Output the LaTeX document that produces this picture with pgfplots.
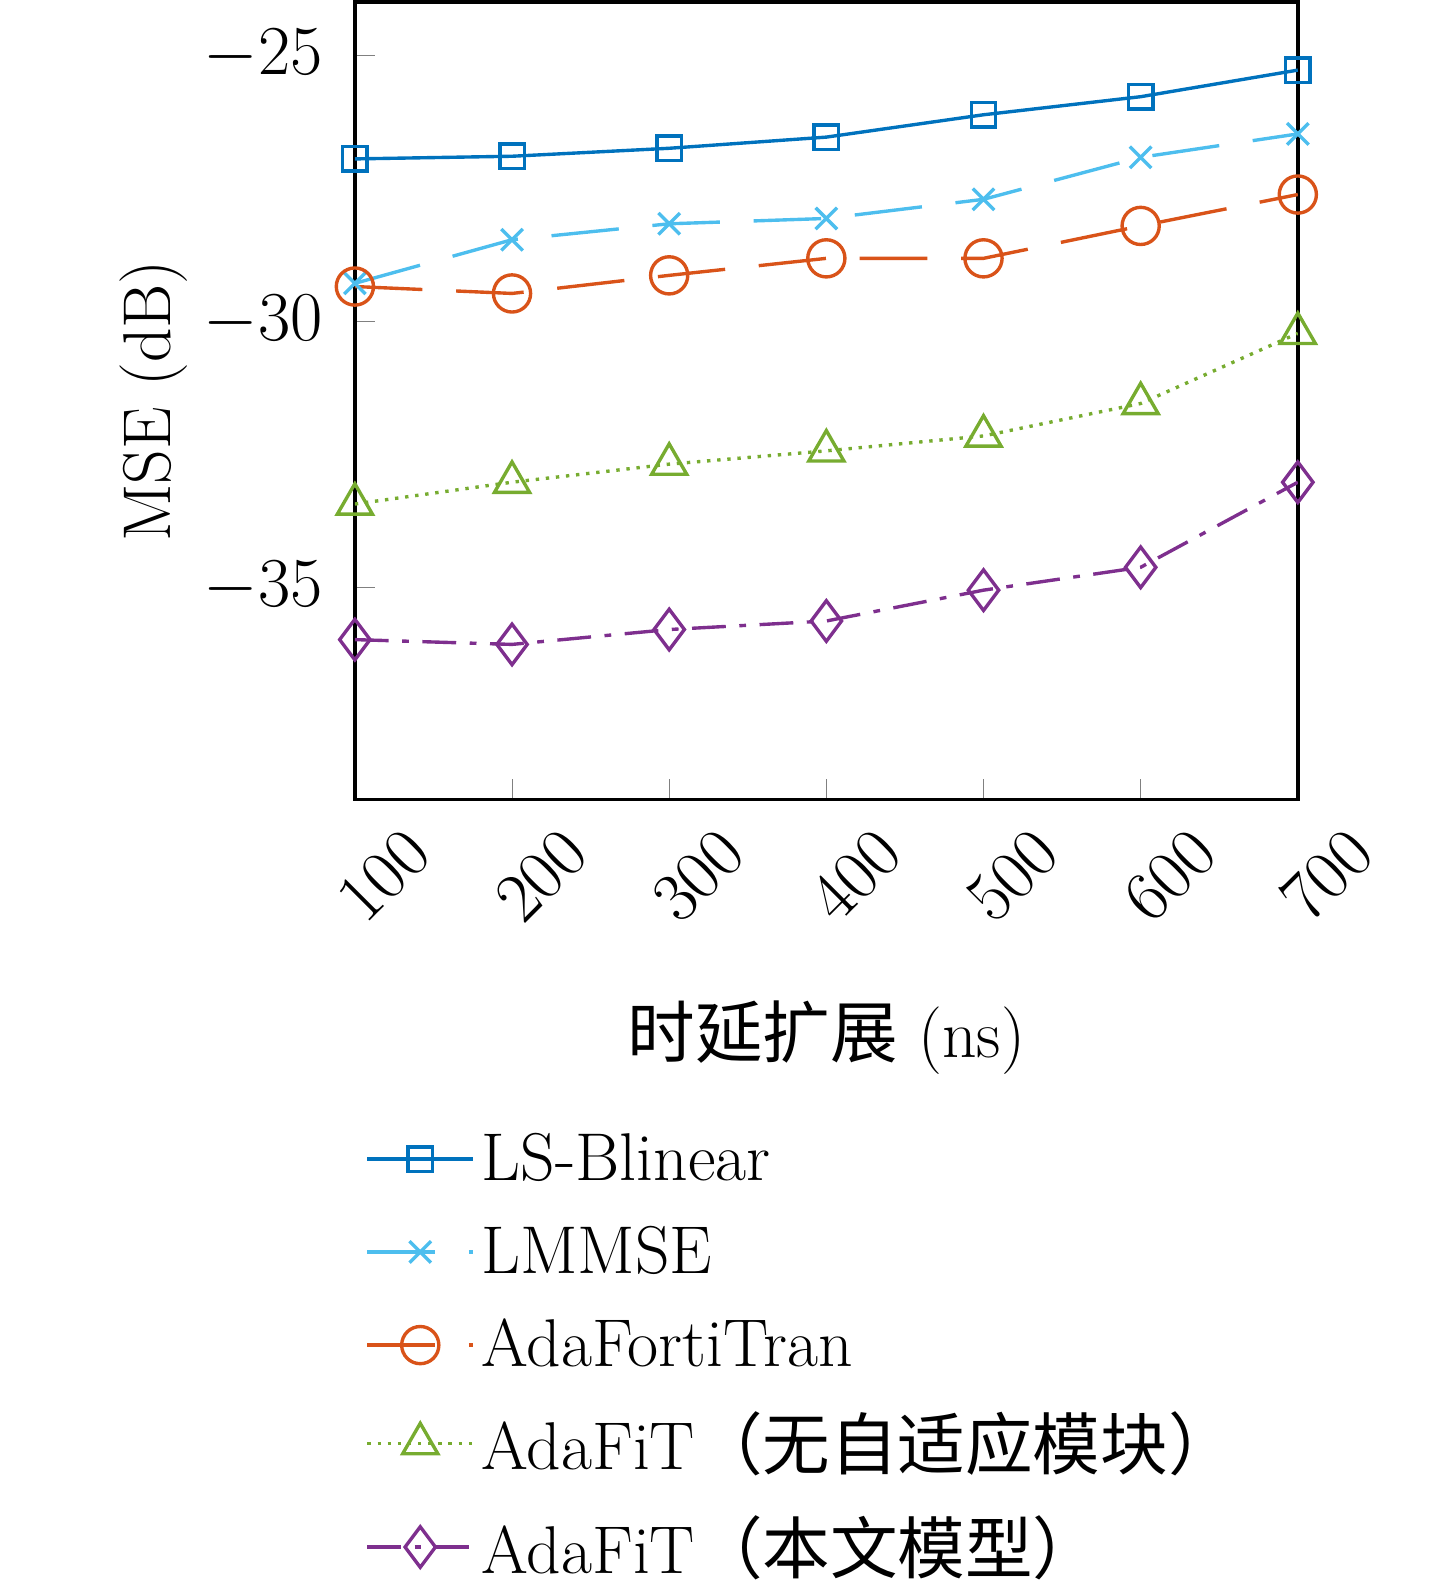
\documentclass[border=0pt]{standalone}
\usepackage{pgfplots}
\pgfplotsset{compat=1.18}
\usepackage{fontspec}
\newfontfamily\cjk{Noto Sans CJK SC}
\begin{document}
\begin{tikzpicture}
\path (-105pt,-470pt) rectangle (320pt,0.6pt);
\begin{axis}[
  scale only axis, width=279pt, height=236pt,
  at={(0,0)}, anchor=north west,
  xmin=100, xmax=700, ymin=-39, ymax=-24,
  xtick={100,200,...,700}, ytick={-35,-30,-25},
  tick align=inside, major tick length=6pt, tick pos=left,
  axis line style={line width=1pt},
  ticklabel style={font=\fontsize{20}{24}\selectfont},
  yticklabel style={xshift=-6pt},
  xticklabel style={rotate=45, anchor=east, xshift=8pt, yshift=-22pt},
  xlabel={{\cjk 时延扩展} (ns)}, ylabel={MSE (dB)},
  label style={font=\fontsize{20}{24}\selectfont},
  xlabel style={yshift=-14pt},
  ylabel style={yshift=-2pt},
  legend cell align=left,
  legend style={draw=none, fill=none, at={(0.0,-0.40)}, anchor=north west,
    font=\fontsize{20}{24}\selectfont, row sep=8pt,
    /tikz/every even column/.append style={column sep=4pt}},
  legend image code/.code={\draw[mark repeat=2,mark phase=2] plot coordinates {(0cm,0cm)(0.55cm,0cm)(1.1cm,0cm)};},
  every axis plot/.append style={line width=1pt, mark size=3.6pt, mark options={solid}},
]
\addplot[color={rgb,255:red,0;green,114;blue,189}, mark=square] coordinates {(100,-26.95)(200,-26.9)(300,-26.75)(400,-26.54)(500,-26.12)(600,-25.78)(700,-25.28)};
\addplot[color={rgb,255:red,77;green,190;blue,238}, mark=x, mark size=4.5pt, dash pattern=on 20pt off 10pt] coordinates {(100,-29.29)(200,-28.47)(300,-28.17)(400,-28.07)(500,-27.71)(600,-26.92)(700,-26.48)};
\addplot[color={rgb,255:red,217;green,83;blue,25}, mark=o, mark size=5.5pt, dash pattern=on 20pt off 10pt] coordinates {(100,-29.35)(200,-29.48)(300,-29.14)(400,-28.82)(500,-28.82)(600,-28.21)(700,-27.62)};
\addplot[color={rgb,255:red,119;green,172;blue,48}, mark=triangle, mark size=6pt, dotted] coordinates {(100,-33.44)(200,-33.03)(300,-32.69)(400,-32.44)(500,-32.16)(600,-31.55)(700,-30.23)};
\addplot[color={rgb,255:red,126;green,47;blue,142}, mark=diamond, mark size=6pt, dash pattern=on 10pt off 4pt on 2pt off 4pt] coordinates {(100,-35.99)(200,-36.08)(300,-35.8)(400,-35.64)(500,-35.06)(600,-34.63)(700,-33.03)};
\legend{LS-Blinear, LMMSE, AdaFortiTran, AdaFiT{\cjk （无自适应模块）}, AdaFiT{\cjk （本文模型）}}
\end{axis}
\end{tikzpicture}
\end{document}
